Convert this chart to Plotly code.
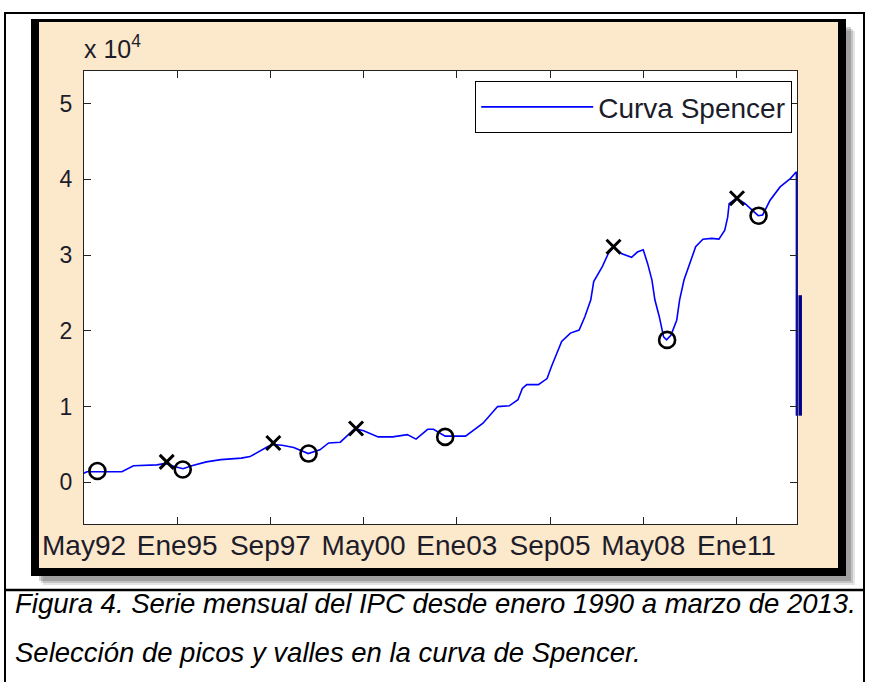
import plotly.graph_objects as go

# ---------------- data (values in units of 10^4) ----------------
months = [0, 1, 13, 17, 25, 28, 31, 34, 37, 42,
          47, 54, 57, 60, 63, 65, 68, 72, 74, 77,
          81, 84, 88, 90, 93, 96, 101, 106, 111, 114,
          118, 120, 124, 131, 137, 142, 146, 149, 150.5, 152,
          156, 159, 160.5, 164, 167, 170, 172, 174, 175, 178,
          180, 182, 184.5, 188, 190, 192, 193.5, 195, 196, 197.5,
          199, 200, 201.5, 203.5, 204.5, 206, 208, 210, 212.5, 215.5,
          218, 220, 221, 221.5, 224, 227, 229.5, 231.5, 233, 235.5,
          239, 242.5, 244.6, 244.6]
spencer = [0.12, 0.14, 0.14, 0.22, 0.23, 0.25, 0.21, 0.18, 0.22, 0.27,
           0.30, 0.32, 0.34, 0.41, 0.47, 0.50, 0.49, 0.46, 0.43, 0.38,
           0.43, 0.52, 0.53, 0.60, 0.71, 0.68, 0.60, 0.60, 0.63, 0.57,
           0.70, 0.70, 0.61, 0.61, 0.78, 1.00, 1.01, 1.09, 1.24, 1.29,
           1.29, 1.37, 1.53, 1.86, 1.97, 2.01, 2.19, 2.41, 2.65, 2.85,
           3.02, 3.11, 3.02, 2.97, 3.04, 3.07, 2.89, 2.67, 2.41, 2.19,
           1.92, 1.88, 1.94, 2.14, 2.41, 2.67, 2.89, 3.11, 3.21, 3.22,
           3.21, 3.33, 3.50, 3.68, 3.75, 3.68, 3.59, 3.52, 3.53, 3.72,
           3.90, 4.01, 4.10, 0.88]

peak_months = [28.4, 65.0, 93.4, 181.8, 224.2]
peak_values = [0.27, 0.52, 0.71, 3.11, 3.75]
valley_months = [4.6, 33.9, 77.1, 124.0, 200.2, 231.6]
valley_values = [0.15, 0.17, 0.38, 0.60, 1.88, 3.52]

tail_values = [0.88, 2.47]   # end-of-filter segment drawn just past the right axis

tick_months = [0, 32, 64, 96, 128, 160, 192, 224]
tick_labels = ["May92", "Ene95", "Sep97", "May00", "Ene03", "Sep05", "May08", "Ene11"]
y_ticks = [0, 1, 2, 3, 4, 5]

# ---------------- geometry ----------------
W, H = 869, 682
L, R, T, B = 84, 72, 71, 158
PW, PH = W - L - R, H - T - B


def px(xp):
    return (xp - L) / PW


def py(yp):
    return (H - B - yp) / PH


FONT = "Liberation Sans, Arial, sans-serif"
TXT = "#1c1c2a"
BEIGE = "#FCE8CB"

fig = go.Figure()

fig.add_trace(go.Scatter(
    x=months, y=spencer, mode="lines", name="Curva Spencer",
    line=dict(color="#0000FF", width=1.6), showlegend=True))

fig.add_trace(go.Scatter(
    x=peak_months, y=peak_values, mode="markers", showlegend=False,
    marker=dict(symbol="x-thin-open", size=14, color="black",
                line=dict(width=3, color="black"))))

fig.add_trace(go.Scatter(
    x=valley_months, y=valley_values, mode="markers", showlegend=False,
    marker=dict(symbol="circle-open", size=16, color="black",
                line=dict(width=2.6, color="black"))))

shapes = []
# outer thin frame of the figure + caption box
shapes.append(dict(type="rect", xref="paper", yref="paper",
                   x0=px(5), x1=px(864), y0=py(13), y1=py(700),
                   line=dict(color="black", width=2), fillcolor="rgba(0,0,0,0)", layer="below"))
shapes.append(dict(type="line", xref="paper", yref="paper",
                   x0=px(5), x1=px(864), y0=py(590), y1=py(590),
                   line=dict(color="black", width=2.5), layer="below"))
# drop shadow
for off, a in [(9, 0.10), (7, 0.14), (5, 0.18)]:
    shapes.append(dict(type="rect", xref="paper", yref="paper",
                       x0=px(34 + off), x1=px(846 + off), y0=py(22 + off), y1=py(576 + off),
                       line=dict(width=0), fillcolor=f"rgba(0,0,0,{a})", layer="below"))
# black frame
shapes.append(dict(type="rect", xref="paper", yref="paper",
                   x0=px(31), x1=px(846), y0=py(19), y1=py(576),
                   line=dict(width=0), fillcolor="black", layer="below"))
# beige figure background
shapes.append(dict(type="rect", xref="paper", yref="paper",
                   x0=px(39), x1=px(838), y0=py(22), y1=py(568),
                   line=dict(width=0), fillcolor=BEIGE, layer="below"))
# white axes background
shapes.append(dict(type="rect", xref="paper", yref="paper",
                   x0=0, x1=1, y0=0, y1=1,
                   line=dict(width=0), fillcolor="white", layer="below"))
# thick end segment just beyond the right axis
shapes.append(dict(type="line", xref="x domain", yref="y",
                   x0=1.0045, x1=1.0045, y0=tail_values[0], y1=tail_values[1],
                   line=dict(color="#00008B", width=3.5), layer="above"))

annotations = [
    dict(text="x 10<sup>4</sup>", xref="paper", yref="paper", x=px(82), y=py(47),
         xanchor="left", yanchor="middle", showarrow=False,
         font=dict(family=FONT, size=25, color=TXT)),
    dict(text="<i>Figura 4. Serie mensual del IPC desde enero 1990 a marzo de 2013.</i>",
         xref="paper", yref="paper", x=px(13), y=py(603), xanchor="left", yanchor="middle",
         showarrow=False, font=dict(family=FONT, size=27.5, color="black")),
    dict(text="<i>Selección de picos y valles en la curva de Spencer.</i>",
         xref="paper", yref="paper", x=px(13), y=py(652), xanchor="left", yanchor="middle",
         showarrow=False, font=dict(family=FONT, size=27.5, color="black")),
]

fig.update_layout(
    width=W, height=H,
    margin=dict(l=L, r=R, t=T, b=B, pad=0),
    paper_bgcolor="white", plot_bgcolor="white",
    shapes=shapes, annotations=annotations,
    showlegend=True,
    legend=dict(x=px(792), y=py(81), xanchor="right", yanchor="top",
                bgcolor="white", bordercolor="black", borderwidth=1.2,
                font=dict(family=FONT, size=28, color=TXT),
                itemwidth=112, tracegroupgap=0),
    xaxis=dict(range=[0, 244.8], tickmode="array", tickvals=tick_months, ticktext=tick_labels,
               ticks="inside", ticklen=7, tickwidth=1, tickcolor="#222",
               showline=True, linecolor="#222", linewidth=1.2, mirror="ticks",
               showgrid=False, zeroline=False,
               tickfont=dict(family=FONT, size=28, color=TXT), ticklabelstandoff=-4),
    yaxis=dict(range=[-0.55, 5.43], tickmode="array", tickvals=y_ticks,
               ticks="inside", ticklen=7, tickwidth=1, tickcolor="#222",
               showline=True, linecolor="#222", linewidth=1.2, mirror="ticks",
               showgrid=False, zeroline=False,
               tickfont=dict(family=FONT, size=23, color=TXT), ticklabelstandoff=6),
)

fig.write_html("out.html", config={"displayModeBar": False},
               post_script="document.body.style.margin='0';document.body.style.padding='0';")
